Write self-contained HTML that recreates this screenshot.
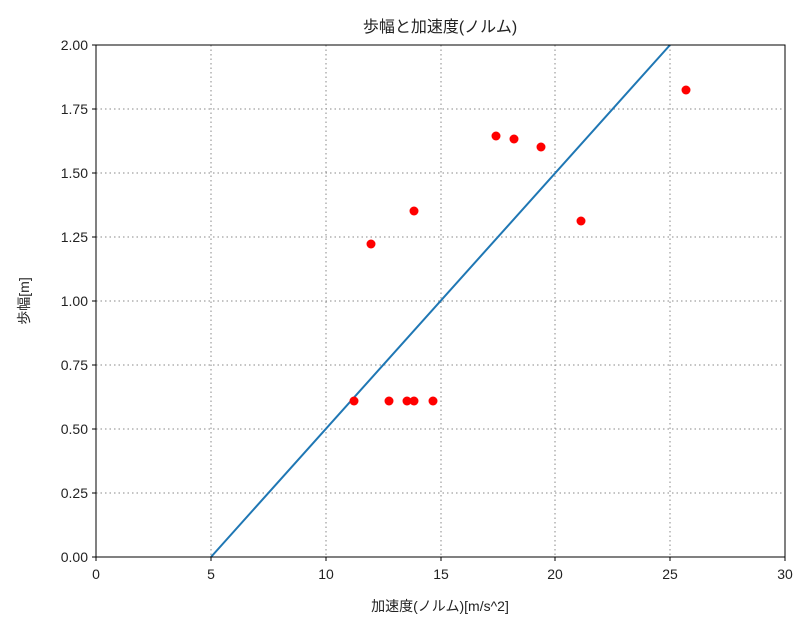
<!DOCTYPE html>
<html><head><meta charset="utf-8"><style>body{margin:0;background:#fff}svg{display:block}text{font-family:"Liberation Sans","Noto Sans CJK JP",sans-serif;fill:#222}</style></head><body>
<svg width="810" height="630" xmlns="http://www.w3.org/2000/svg">
<rect width="810" height="630" fill="#fff"/>
<g stroke="#888" stroke-dasharray="1.5,3" stroke-width="1">
<line x1="211" y1="45" x2="211" y2="557"/><line x1="326" y1="45" x2="326" y2="557"/><line x1="441" y1="45" x2="441" y2="557"/><line x1="555" y1="45" x2="555" y2="557"/><line x1="670" y1="45" x2="670" y2="557"/>
<line x1="96" y1="109" x2="785" y2="109"/><line x1="96" y1="173" x2="785" y2="173"/><line x1="96" y1="237" x2="785" y2="237"/><line x1="96" y1="301" x2="785" y2="301"/><line x1="96" y1="365" x2="785" y2="365"/><line x1="96" y1="429" x2="785" y2="429"/><line x1="96" y1="493" x2="785" y2="493"/>
</g>
<line x1="211" y1="557" x2="670" y2="45" stroke="#1f77b4" stroke-width="2"/>
<g fill="#f00">
<circle cx="354" cy="401" r="4.5"/><circle cx="389" cy="401" r="4.5"/><circle cx="407" cy="401" r="4.5"/><circle cx="414" cy="401" r="4.5"/><circle cx="433" cy="401" r="4.5"/>
<circle cx="371" cy="244" r="4.5"/><circle cx="414" cy="211" r="4.5"/><circle cx="496" cy="136" r="4.5"/><circle cx="514" cy="139" r="4.5"/><circle cx="541" cy="147" r="4.5"/><circle cx="581" cy="221" r="4.5"/><circle cx="686" cy="90" r="4.5"/>
</g>
<rect x="96" y="45" width="689" height="512" fill="none" stroke="#000" stroke-width="1"/>
<g stroke="#000"><line x1="96" y1="557" x2="96" y2="561"/><line x1="211" y1="557" x2="211" y2="561"/><line x1="326" y1="557" x2="326" y2="561"/><line x1="441" y1="557" x2="441" y2="561"/><line x1="555" y1="557" x2="555" y2="561"/><line x1="670" y1="557" x2="670" y2="561"/><line x1="785" y1="557" x2="785" y2="561"/>
<line x1="92" y1="45" x2="96" y2="45"/><line x1="92" y1="109" x2="96" y2="109"/><line x1="92" y1="173" x2="96" y2="173"/><line x1="92" y1="237" x2="96" y2="237"/><line x1="92" y1="301" x2="96" y2="301"/><line x1="92" y1="365" x2="96" y2="365"/><line x1="92" y1="429" x2="96" y2="429"/><line x1="92" y1="493" x2="96" y2="493"/><line x1="92" y1="557" x2="96" y2="557"/></g>
<g font-size="14" text-anchor="middle"><text x="96" y="579">0</text><text x="211" y="579">5</text><text x="326" y="579">10</text><text x="441" y="579">15</text><text x="555" y="579">20</text><text x="670" y="579">25</text><text x="785" y="579">30</text></g>
<g font-size="14" text-anchor="end"><text x="88" y="50">2.00</text><text x="88" y="114">1.75</text><text x="88" y="178">1.50</text><text x="88" y="242">1.25</text><text x="88" y="306">1.00</text><text x="88" y="370">0.75</text><text x="88" y="434">0.50</text><text x="88" y="498">0.25</text><text x="88" y="562">0.00</text></g>
<text x="440" y="611" font-size="14" text-anchor="middle">加速度(ノルム)[m/s^2]</text>
<text x="440" y="32" font-size="16" text-anchor="middle">歩幅と加速度(ノルム)</text>
<text transform="translate(29,301) rotate(-90)" font-size="14" text-anchor="middle">歩幅[m]</text>
</svg></body></html>
